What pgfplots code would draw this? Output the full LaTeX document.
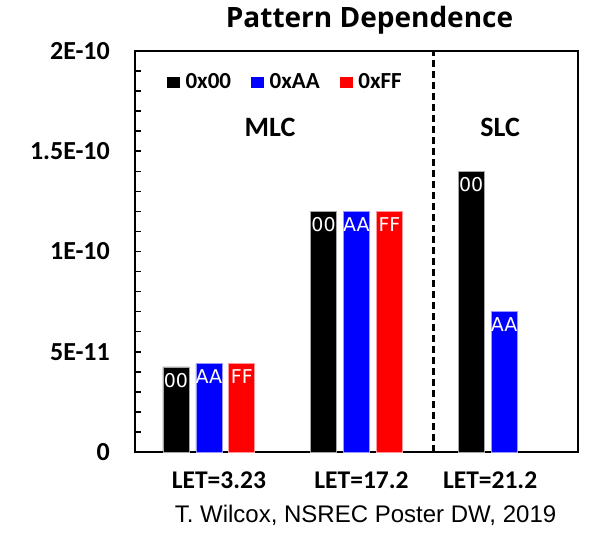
\documentclass[border=0pt]{standalone}
\usepackage{pgfplots}
\pgfplotsset{compat=1.18}
\usepackage{fontspec}
\setmainfont{Carlito}
\newfontfamily\titlefont{Open Sans}
\newfontfamily\dejavu{DejaVu Sans}
\newfontfamily\arialfont{Liberation Sans}
\begin{document}
\begin{tikzpicture}
\useasboundingbox (-135bp,-90bp) rectangle (455bp,452bp);
\begin{axis}[
  at={(0,0)},
  scale only axis, width=443bp, height=401bp,
  xmin=0.5, xmax=3.5, ymin=0, ymax=2e-10,
  ybar, bar width=0.176,
  axis line style={line width=2.2bp},
  ytick={0,5e-11,1e-10,1.5e-10,2e-10},
  yticklabels={0,5E-11,1E-10,1.5E-10,2E-10},
  scaled y ticks=false,
  minor y tick num=4,
  ytick pos=left,
  tick align=inside,
  major tick length=6bp, minor tick length=6bp,
  y tick style={black, line width=1.5bp},
  xtick={1.068,2.034,2.905},
  xticklabels={LET=3.23,LET=17.2,LET=21.2},
  x tick style={draw=none},
  yticklabel style={font=\bfseries\fontsize{26bp}{30bp}\selectfont, anchor=east, inner sep=0pt, xshift=-25bp},
  xticklabel style={font=\bfseries\fontsize{25.5bp}{30bp}\selectfont, anchor=base, inner sep=0pt, yshift=-36bp},
  nodes near coords align={below},
  every node near coord/.append style={text=white, font=\dejavu\fontsize{19bp}{22bp}\selectfont, inner sep=1bp, yshift=-5bp},
  legend columns=3,
  legend style={at={(0.065,0.923)}, anchor=west, draw=none, fill=none,
    font=\bfseries\fontsize{23bp}{26bp}\selectfont,
    /tikz/every odd column/.append style={column sep=4bp},
    /tikz/every even column/.append style={column sep=18bp}},
]
\addplot[fill=black, draw=black!35, line width=0.6bp, bar shift=0pt, nodes near coords={00},
  legend image code/.code={\fill[black] (0bp,-5bp) rectangle (12bp,5bp);}]
  coordinates {(0.777,4.24e-11) (1.777,1.2e-10) (2.777,1.4e-10)};
\addlegendentry{0x00}
\addplot[fill=blue, draw=blue!40, line width=0.6bp, bar shift=0pt, nodes near coords={AA},
  legend image code/.code={\fill[blue] (0bp,-5bp) rectangle (12bp,5bp);}]
  coordinates {(1,4.4e-11) (2,1.2e-10) (3,7.0e-11)};
\addlegendentry{0xAA}
\addplot[fill=red, draw=red!40, line width=0.6bp, bar shift=0pt, nodes near coords={FF},
  legend image code/.code={\fill[red] (0bp,-5bp) rectangle (12bp,5bp);}]
  coordinates {(1.223,4.4e-11) (2.223,1.2e-10)};
\addlegendentry{0xFF}
\draw[black, line width=2.5bp, dash pattern=on 7bp off 4bp] (axis cs:2.52,0) -- (axis cs:2.52,2e-10);
\node[font=\bfseries\fontsize{28bp}{32bp}\selectfont] at (rel axis cs:0.305,0.81) {MLC};
\node[font=\bfseries\fontsize{28bp}{32bp}\selectfont] at (rel axis cs:0.824,0.81) {SLC};
\end{axis}
\node[anchor=base, font=\titlefont\bfseries\fontsize{28bp}{32bp}\selectfont] at (234.5bp,424bp) {Pattern Dependence};
\node[anchor=base, font=\arialfont\fontsize{24bp}{28bp}\selectfont] at (230.5bp,-70bp) {T. Wilcox, NSREC Poster DW, 2019};
\end{tikzpicture}
\end{document}
